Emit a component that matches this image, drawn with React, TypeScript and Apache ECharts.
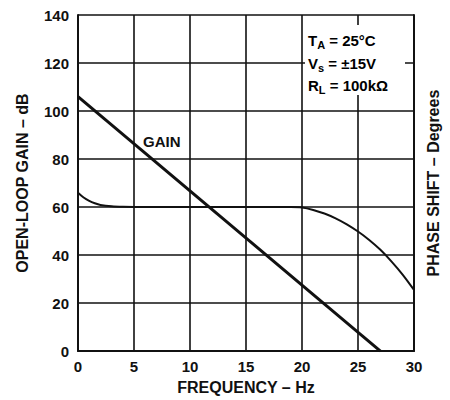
import React, { useEffect, useRef } from "react";
import * as echarts from "echarts";

const xTicks = [0, 5, 10, 15, 20, 25, 30];
const gainX = [0, 27];
const gainY = [106, 0];
const phaseX = [0, 0.5, 1, 1.5, 2, 3, 4, 6, 10, 15, 19, 20, 21, 22, 23, 24, 25, 26, 27, 28, 29, 30];
const phaseY = [66, 64, 62.6, 61.6, 60.9, 60.3, 60.1, 60, 60, 60, 60, 59.8, 58.8, 57.3, 55.3, 52.8, 49.8, 46.3, 42.2, 37.3, 31.8, 25.5];

const FONT = "'Liberation Sans', Arial, Helvetica, sans-serif";

export default function App() {
  const ref = useRef<HTMLDivElement>(null);
  useEffect(() => {
    if (!ref.current) return;
    const chart = echarts.init(ref.current, undefined, { renderer: "svg" });
    const rich = {
      m: { fontSize: 15, fontWeight: "bold", fontFamily: FONT, color: "#111", lineHeight: 17 },
      s: { fontSize: 11, fontWeight: "bold", fontFamily: FONT, color: "#111", lineHeight: 11, padding: [9, 0, 0, 0] },
    };
    const titleStyle = { fontSize: 16, fontWeight: "bold", fontFamily: FONT, color: "#111" };
    chart.setOption({
      animation: false,
      backgroundColor: "#fff",
      grid: { left: 78, right: 36, top: 15, bottom: 48 },
      xAxis: {
        type: "value",
        min: 0,
        max: 30,
        interval: 5,
        name: "FREQUENCY – Hz",
        nameLocation: "middle",
        nameGap: 27,
        nameTextStyle: titleStyle,
        axisLine: { show: true, onZero: false, lineStyle: { color: "#111", width: 2 } },
        axisTick: { show: false },
        axisLabel: { fontSize: 15, fontWeight: "bold", fontFamily: FONT, color: "#111", margin: 8 },
        splitLine: { show: true, lineStyle: { color: "#111", width: 1.6 } },
      },
      yAxis: [
        {
          type: "value",
          min: 0,
          max: 140,
          interval: 20,
          name: "OPEN-LOOP GAIN – dB",
          nameLocation: "middle",
          nameRotate: 90,
          nameGap: 48,
          nameTextStyle: titleStyle,
          axisLine: { show: true, lineStyle: { color: "#111", width: 2 } },
          axisTick: { show: false },
          axisLabel: { fontSize: 15, fontWeight: "bold", fontFamily: FONT, color: "#111", margin: 9 },
          splitLine: { show: true, lineStyle: { color: "#111", width: 1.6 } },
        },
        {
          type: "value",
          position: "right",
          min: 0,
          max: 140,
          interval: 20,
          name: "PHASE SHIFT – Degrees",
          nameLocation: "middle",
          nameRotate: 90,
          nameGap: 11,
          nameTextStyle: titleStyle,
          axisLine: { show: true, lineStyle: { color: "#111", width: 2 } },
          axisTick: { show: false },
          axisLabel: { show: false },
          splitLine: { show: false },
        },
      ],
      graphic: [
        { type: "rect", z: 50, shape: { x: 305, y: 25, width: 100, height: 70 }, style: { fill: "#fff" } },
        {
          type: "text", z: 51, left: 308, top: 30,
          style: { text: "{m|T}{s|A}{m| = 25°C}", rich },
        },
        {
          type: "text", z: 51, left: 308, top: 53,
          style: { text: "{m|V}{s|s}{m| = ±15V}", rich },
        },
        {
          type: "text", z: 51, left: 308, top: 75,
          style: { text: "{m|R}{s|L}{m| = 100kΩ}", rich },
        },
        {
          type: "text", z: 51, left: 143, top: 134,
          style: { text: "GAIN", fontSize: 15, fontWeight: "bold", fontFamily: FONT, fill: "#111" },
        },
      ],
      series: [
        {
          type: "line",
          data: gainX.map((x, i) => [x, gainY[i]]),
          symbol: "none",
          lineStyle: { color: "#111", width: 3 },
          z: 5,
        },
        {
          type: "line",
          data: phaseX.map((x, i) => [x, phaseY[i]]),
          symbol: "none",
          smooth: 0.3,
          lineStyle: { color: "#111", width: 2 },
          z: 5,
        },
      ],
    });
    return () => chart.dispose();
  }, []);
  return <div ref={ref} style={{ width: 450, height: 400, position: "absolute", left: 0, top: 0 }} />;
}
